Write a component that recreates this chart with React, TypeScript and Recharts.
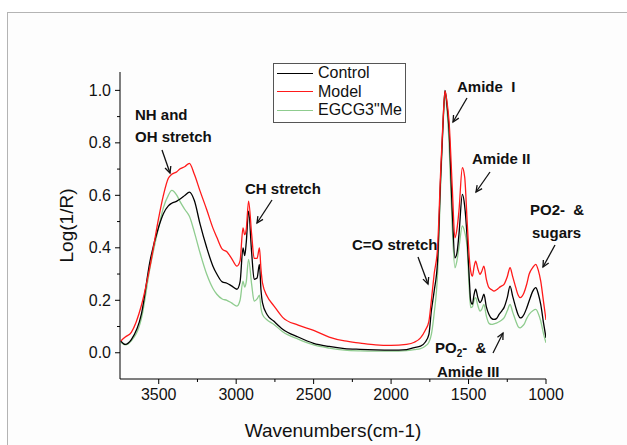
import React from 'react';
import { LineChart, Line, XAxis, YAxis, Legend, Label } from 'recharts';

const wavenumbers = [3745, 3716, 3677, 3612, 3556, 3500, 3470, 3438, 3416, 3383, 3364, 3330, 3302, 3270, 3233, 3190, 3150, 3125, 3090, 3060, 3030, 2995, 2975, 2956, 2945, 2935, 2920, 2900, 2884, 2865, 2850, 2840, 2830, 2800, 2758, 2700, 2600, 2500, 2400, 2300, 2200, 2100, 2000, 1900, 1850, 1810, 1780, 1756, 1740, 1722, 1700, 1680, 1665, 1652, 1640, 1626, 1605, 1588, 1575, 1562, 1540, 1525, 1509, 1495, 1486, 1475, 1465, 1454, 1440, 1426, 1415, 1401, 1385, 1368, 1350, 1336, 1320, 1303, 1285, 1271, 1250, 1232, 1215, 1195, 1180, 1167, 1155, 1142, 1125, 1109, 1085, 1066, 1050, 1034, 1015, 1000];

const model = [0.045, 0.06, 0.078, 0.18, 0.33, 0.515, 0.6, 0.665, 0.68, 0.69, 0.7, 0.71, 0.722, 0.68, 0.616, 0.545, 0.475, 0.44, 0.395, 0.385, 0.36, 0.33, 0.35, 0.476, 0.45, 0.47, 0.578, 0.45, 0.36, 0.36, 0.4, 0.32, 0.265, 0.215, 0.18, 0.135, 0.105, 0.085, 0.06, 0.045, 0.037, 0.03, 0.028, 0.032, 0.04, 0.057, 0.085, 0.12, 0.2, 0.3, 0.4, 0.692, 0.88, 0.997, 0.96, 0.883, 0.629, 0.438, 0.47, 0.54, 0.705, 0.67, 0.5, 0.36, 0.311, 0.292, 0.325, 0.349, 0.32, 0.299, 0.31, 0.33, 0.28, 0.248, 0.24, 0.235, 0.24, 0.248, 0.255, 0.261, 0.29, 0.324, 0.29, 0.248, 0.22, 0.21, 0.215, 0.229, 0.26, 0.299, 0.325, 0.337, 0.315, 0.273, 0.19, 0.125];

const control = [0.045, 0.032, 0.05, 0.147, 0.35, 0.48, 0.53, 0.56, 0.57, 0.578, 0.585, 0.6, 0.612, 0.58, 0.49, 0.4, 0.33, 0.3, 0.27, 0.265, 0.255, 0.242, 0.27, 0.4, 0.37, 0.42, 0.54, 0.38, 0.28, 0.285, 0.337, 0.24, 0.19, 0.145, 0.121, 0.09, 0.06, 0.036, 0.024, 0.016, 0.013, 0.011, 0.01, 0.012, 0.02, 0.025, 0.04, 0.07, 0.16, 0.235, 0.35, 0.67, 0.87, 1.0, 0.95, 0.85, 0.54, 0.362, 0.38, 0.45, 0.604, 0.56, 0.438, 0.28, 0.197, 0.185, 0.22, 0.242, 0.21, 0.191, 0.2, 0.223, 0.175, 0.146, 0.13, 0.127, 0.13, 0.146, 0.16, 0.172, 0.21, 0.254, 0.215, 0.172, 0.145, 0.133, 0.135, 0.146, 0.17, 0.197, 0.235, 0.248, 0.225, 0.184, 0.11, 0.057];

const egcg = [0.04, 0.03, 0.045, 0.13, 0.324, 0.48, 0.553, 0.6, 0.619, 0.6, 0.578, 0.545, 0.52, 0.46, 0.38, 0.299, 0.245, 0.223, 0.205, 0.2, 0.19, 0.178, 0.2, 0.273, 0.25, 0.27, 0.356, 0.26, 0.197, 0.205, 0.22, 0.17, 0.146, 0.125, 0.109, 0.08, 0.052, 0.03, 0.018, 0.01, 0.007, 0.006, 0.006, 0.008, 0.012, 0.016, 0.025, 0.04, 0.07, 0.15, 0.3, 0.64, 0.86, 0.985, 0.93, 0.8, 0.476, 0.324, 0.35, 0.4, 0.483, 0.46, 0.4, 0.24, 0.172, 0.175, 0.2, 0.21, 0.18, 0.159, 0.165, 0.184, 0.14, 0.112, 0.108, 0.11, 0.113, 0.118, 0.125, 0.133, 0.16, 0.184, 0.155, 0.121, 0.1, 0.095, 0.1, 0.108, 0.13, 0.146, 0.16, 0.165, 0.15, 0.121, 0.07, 0.038];

const xTicks = [3500, 3250, 3000, 2750, 2500, 2250, 2000, 1750, 1500, 1250, 1000];
const yTicks = [0, 0.1, 0.2, 0.3, 0.4, 0.5, 0.6, 0.7, 0.8, 0.9, 1.0];
const seriesKeys = ['control', 'model', 'egcg'];
const seriesNames = ['Control', 'Model', 'EGCG3"Me'];
const seriesColors = ['#000000', '#ff1a1a', '#8fcc8f'];

const data = wavenumbers.map((w, i) => ({ wn: w, control: control[i], model: model[i], egcg: egcg[i] }));

const FONT = '"Liberation Sans", Arial, sans-serif';

const XTick = (props: any) => {
  const { x, y, payload } = props;
  const v = payload.value;
  const major = v % 500 === 0;
  return (
    <g>
      <line x1={x} x2={x} y1={y} y2={y + (major ? 5 : 3)} stroke="#000" strokeWidth={1} />
      {major && (
        <text x={x} y={y + 21} textAnchor="middle" fontSize={16} fontFamily={FONT} fill="#111">{v}</text>
      )}
    </g>
  );
};

const YTick = (props: any) => {
  const { x, y, payload } = props;
  const v = payload.value;
  const major = Math.round(v * 10) % 2 === 0;
  return (
    <g>
      <line x1={x} x2={x - (major ? 5 : 3)} y1={y} y2={y} stroke="#000" strokeWidth={1} />
      {major && (
        <text x={x - 9} y={y + 5.5} textAnchor="end" fontSize={16} fontFamily={FONT} fill="#111">{v.toFixed(1)}</text>
      )}
    </g>
  );
};

const renderLegend = () => (
  <div style={{ display: 'inline-block', border: '1px solid #555', background: '#fff', padding: '0 3px 2px 3px', fontFamily: FONT, fontSize: 16, lineHeight: '18.5px', color: '#111' }}>
    {seriesNames.map((n, i) => (
      <div key={n} style={{ display: 'flex', alignItems: 'center', whiteSpace: 'nowrap' }}>
        <span style={{ display: 'inline-block', width: 36, height: 0, borderTop: `1px solid ${seriesColors[i]}`, marginRight: 5 }} />
        <span>{n}</span>
      </div>
    ))}
  </div>
);

type Ann = { lines: { t: React.ReactNode; x: number; y: number }[]; arrow: [number, number, number, number] };

const PO2 = (
  <>
    PO<tspan fontSize={10} dy={4}>2</tspan><tspan dy={-4}>-  &amp;</tspan>
  </>
);

const annotations: Ann[] = [
  { lines: [{ t: 'NH and', x: 135, y: 120 }, { t: 'OH stretch', x: 135, y: 142 }], arrow: [162, 150, 170, 173] },
  { lines: [{ t: 'CH stretch', x: 245, y: 194 }], arrow: [272, 200, 257, 223] },
  { lines: [{ t: 'C=O stretch', x: 352, y: 250 }], arrow: [418, 257, 428, 284] },
  { lines: [{ t: 'Amide  I', x: 457, y: 92 }], arrow: [467, 98, 453, 122] },
  { lines: [{ t: 'Amide II', x: 472, y: 164 }], arrow: [490, 172, 476, 192] },
  { lines: [{ t: 'PO2-  &', x: 530, y: 215 }, { t: 'sugars', x: 532, y: 238 }], arrow: [555, 245, 543, 267] },
  { lines: [{ t: PO2, x: 435, y: 353 }, { t: 'Amide III', x: 437, y: 377 }], arrow: [493, 353, 503, 333] },
];

const arrowHead = (x1: number, y1: number, x2: number, y2: number) => {
  const a = Math.atan2(y2 - y1, x2 - x1);
  const L = 7;
  const s = 0.45;
  const p1 = [x2 - L * Math.cos(a - s), y2 - L * Math.sin(a - s)];
  const p2 = [x2 - L * Math.cos(a + s), y2 - L * Math.sin(a + s)];
  return `M${p1[0]},${p1[1]} L${x2},${y2} L${p2[0]},${p2[1]}`;
};

export default function App() {
  return (
    <div style={{ position: 'absolute', left: 0, top: 0, width: 627, height: 445, overflow: 'hidden', background: '#fff' }}>
      <div style={{ position: 'absolute', left: 7, top: 12, width: 640, height: 460, borderLeft: '1px solid #b4b4b4', borderTop: '1px solid #b4b4b4', background: '#fdfdfd' }} />
      <div style={{ position: 'absolute', left: 0, top: 0 }}>
        <LineChart width={627} height={445} data={data} margin={{ top: 72, right: 81, bottom: 36, left: 60 }}>
          <XAxis
            dataKey="wn"
            type="number"
            domain={[1000, 3750]}
            reversed
            allowDataOverflow
            ticks={xTicks}
            interval={0}
            tickSize={0}
            tickMargin={0}
            tickLine={false}
            tick={<XTick />}
            height={30}
            axisLine={{ stroke: '#000', strokeWidth: 1 }}
          >
            <Label
              content={(p: any) => {
                const vb = p.viewBox;
                return (
                  <text x={vb.x + vb.width / 2} y={437} textAnchor="middle" fontSize={19} fontFamily={FONT} fill="#111">
                    Wavenumbers(cm-1)
                  </text>
                );
              }}
            />
          </XAxis>
          <YAxis
            type="number"
            domain={[-0.1, 1.07]}
            allowDataOverflow
            ticks={yTicks}
            interval={0}
            tickSize={0}
            tickMargin={0}
            tickLine={false}
            tick={<YTick />}
            width={60}
            axisLine={{ stroke: '#000', strokeWidth: 1 }}
          >
            <Label
              content={(p: any) => {
                const vb = p.viewBox;
                const cy = vb.y + vb.height / 2;
                return (
                  <text x={66} y={cy} transform={`rotate(-90 66 ${cy})`} textAnchor="middle" dominantBaseline="central" fontSize={19} fontFamily={FONT} fill="#111">
                    Log(1/R)
                  </text>
                );
              }}
            />
          </YAxis>
          <Legend
            layout="vertical"
            align="center"
            verticalAlign="middle"
            content={renderLegend}
            wrapperStyle={{ left: 273, top: 63, width: 'auto', height: 'auto' }}
          />
          {[2, 0, 1].map((i) => (
            <Line
              key={seriesKeys[i]}
              dataKey={seriesKeys[i]}
              name={seriesNames[i]}
              type="monotone"
              stroke={seriesColors[i]}
              strokeWidth={1.3}
              dot={false}
              activeDot={false}
              isAnimationActive={false}
            />
          ))}
        </LineChart>
      </div>
      <svg width={627} height={445} style={{ position: 'absolute', left: 0, top: 0, pointerEvents: 'none' }}>
        {annotations.map((a, i) => (
          <g key={i}>
            {a.lines.map((l, j) => (
              <text key={j} x={l.x} y={l.y} fontSize={15} fontWeight="bold" fontFamily={FONT} fill="#111" xmlSpace="preserve">
                {l.t}
              </text>
            ))}
            <line x1={a.arrow[0]} y1={a.arrow[1]} x2={a.arrow[2]} y2={a.arrow[3]} stroke="#111" strokeWidth={1.3} />
            <path d={arrowHead(a.arrow[0], a.arrow[1], a.arrow[2], a.arrow[3])} fill="none" stroke="#111" strokeWidth={1.3} />
          </g>
        ))}
      </svg>
    </div>
  );
}
